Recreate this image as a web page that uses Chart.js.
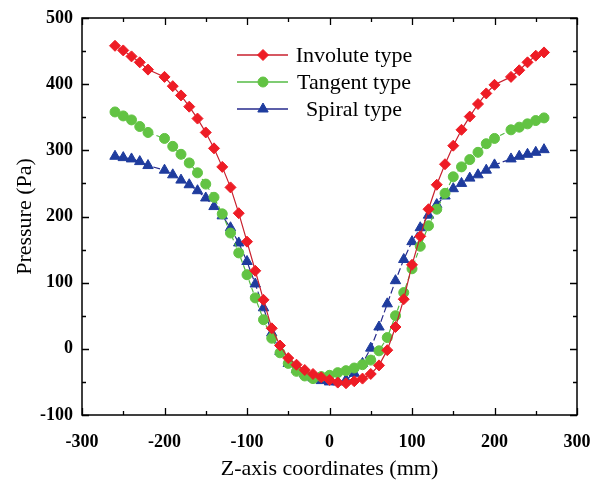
<!DOCTYPE html>
<html>
<head>
<meta charset="utf-8">
<script src="https://cdn.jsdelivr.net/npm/chart.js@4.4.1/dist/chart.umd.min.js"></script>
<style>
  html, body { margin: 0; padding: 0; background: #ffffff; }
  #wrap { width: 592px; height: 480px; }
</style>
</head>
<body>
<div id="wrap"><canvas id="c" width="592" height="480"></canvas></div>
<script>
// ---- data ----
const zCoords = [-260, -250, -240, -230, -220, -200, -190, -180, -170, -160, -150, -140, -130, -120, -110,
  -100, -90, -80, -70, -60, -50, -40, -30, -20, -10, 0, 10, 20, 30, 40, 50, 60, 70, 80, 90, 100,
  110, 120, 130, 140, 150, 160, 170, 180, 190, 200, 220, 230, 240, 250, 260];

const involute = [458, 451, 442, 433, 422, 411, 397, 383, 366, 348, 327, 303, 275, 244, 205,
  162, 118, 74, 31, 5, -14, -24, -32, -38, -43, -47, -51, -52, -49, -45, -38, -25, -2, 33, 75, 127,
  170, 211, 248, 279, 307, 331, 351, 370, 386, 399, 411, 421, 433, 443, 448];

const tangent = [358, 352, 346, 336, 327, 318, 306, 294, 281, 266, 249, 229, 204, 175, 145,
  112, 77, 44, 16, -6, -22, -34, -41, -45, -42, -40, -36, -33, -29, -24, -17, -3, 17, 50, 85, 121,
  155, 186, 211, 235, 260, 275, 286, 297, 310, 318, 331, 335, 340, 345, 349];

const spiral = [291, 289, 287, 283, 277, 270, 263, 255, 248, 239, 228, 215, 201, 183, 160,
  132, 98, 62, 24, -4, -22, -31, -38, -44, -48, -50, -50, -47, -37, -22, 1, 33, 68, 103, 135, 162,
  183, 202, 218, 231, 242, 250, 258, 263, 270, 278, 287, 291, 294, 297, 301];

const seriesNames = ['Involute type', 'Tangent type', 'Spiral type'];
const xTitle = 'Z-axis coordinates (mm)';
const yTitle = 'Pressure (Pa)';
const xRange = [-300, 300];
const yRange = [-100, 500];
const tickStep = 100;

// ---- helpers ----
const toPoints = (ys) => ys.map((y, i) => ({ x: zCoords[i], y: y }));
const SERIF = "'Liberation Serif', 'Times New Roman', serif";

// inward ticks + frame on all four sides
const framePlugin = {
  id: 'frame',
  afterDatasetsDraw(chart) {
    const { ctx, chartArea: a, scales } = chart;
    const xs = scales.x, ys = scales.y;
    ctx.save();
    ctx.strokeStyle = '#000';
    ctx.lineWidth = 1.5;
    ctx.strokeRect(a.left, a.top, a.right - a.left, a.bottom - a.top);
    ctx.lineWidth = 1.3;
    const major = 7, minor = 4;
    const xt = xs.ticks.map(t => t.value);
    const yt = ys.ticks.map(t => t.value);
    const drawX = (v, len) => {
      const p = Math.round(xs.getPixelForValue(v)) + 0.5;
      ctx.beginPath();
      ctx.moveTo(p, a.bottom); ctx.lineTo(p, a.bottom - len);
      ctx.moveTo(p, a.top); ctx.lineTo(p, a.top + len);
      ctx.stroke();
    };
    const drawY = (v, len) => {
      const p = Math.round(ys.getPixelForValue(v)) + 0.5;
      ctx.beginPath();
      ctx.moveTo(a.left, p); ctx.lineTo(a.left + len, p);
      ctx.moveTo(a.right, p); ctx.lineTo(a.right - len, p);
      ctx.stroke();
    };
    xt.forEach((v, i) => {
      drawX(v, major);
      if (i < xt.length - 1) drawX((v + xt[i + 1]) / 2, minor);
    });
    yt.forEach((v, i) => {
      drawY(v, major);
      if (i < yt.length - 1) drawY((v + yt[i + 1]) / 2, minor);
    });
    ctx.restore();
  }
};

// legend inside the plot, labels centred in their column
const legendPlugin = {
  id: 'innerLegend',
  afterDatasetsDraw(chart) {
    const { ctx } = chart;
    const rows = [55, 82, 109];
    const lineX0 = 237, lineX1 = 288, markX = 263, textCX = 354;
    ctx.save();
    chart.data.datasets.forEach((d, i) => {
      const y = rows[i];
      ctx.strokeStyle = d.borderColor;
      ctx.lineWidth = 1.5;
      ctx.setLineDash([]);
      ctx.beginPath();
      ctx.moveTo(lineX0, y); ctx.lineTo(lineX1, y);
      ctx.stroke();
      ctx.fillStyle = d.pointBackgroundColor;
      ctx.strokeStyle = d.pointBorderColor;
      ctx.lineWidth = 1;
      Chart.helpers.drawPoint(ctx, { pointStyle: d.pointStyle, radius: d.pointRadius, rotation: 0, borderWidth: 1 }, markX, y);
      ctx.fillStyle = '#000';
      ctx.font = '22px ' + SERIF;
      ctx.textAlign = 'center';
      ctx.textBaseline = 'middle';
      ctx.fillText(d.label, textCX, y + 1);
    });
    ctx.restore();
  }
};

const ds = (label, data, line, fill, style, radius, dash) => ({
  label: label,
  data: toPoints(data),
  borderColor: line,
  borderWidth: 1.2,
  borderDash: dash,
  pointStyle: style,
  pointRadius: radius,
  pointHoverRadius: radius,
  pointBackgroundColor: fill,
  pointBorderColor: fill,
  pointBorderWidth: 1,
  fill: false,
  tension: 0
});

const chart = new Chart(document.getElementById('c'), {
  type: 'line',
  data: {
    datasets: [
      ds(seriesNames[0], involute, '#c8202e', '#ee1c25', 'rectRot', 5.5, []),
      ds(seriesNames[1], tangent, '#55bb44', '#62c343', 'circle', 5, [5, 3]),
      ds(seriesNames[2], spiral, '#262a8c', '#1f3c9e', 'triangle', 6, [7, 3])
    ]
  },
  options: {
    responsive: false,
    animation: false,
    devicePixelRatio: 1,
    layout: { padding: { left: 0, right: 15, top: 18, bottom: 0 } },
    plugins: {
      legend: { display: false },
      tooltip: { enabled: false }
    },
    scales: {
      x: {
        type: 'linear',
        min: xRange[0], max: xRange[1],
        grid: { display: false, drawTicks: false },
        border: { display: false },
        ticks: {
          stepSize: tickStep,
          padding: 17,
          color: '#000',
          font: { family: SERIF, size: 18, weight: 'bold' },
          maxRotation: 0
        },
        title: {
          display: true,
          text: xTitle,
          color: '#000',
          font: { family: SERIF, size: 22, lineHeight: 1 },
          padding: { top: 0, bottom: 0 }
        },
        afterFit(scale) { scale.height = 65; scale.paddingLeft = 0; scale.paddingRight = 0; }
      },
      y: {
        type: 'linear',
        min: yRange[0], max: yRange[1],
        grid: { display: false, drawTicks: false },
        border: { display: false },
        ticks: {
          stepSize: tickStep,
          padding: 9,
          color: '#000',
          font: { family: SERIF, size: 18, weight: 'bold' }
        },
        title: {
          display: true,
          text: yTitle,
          color: '#000',
          font: { family: SERIF, size: 22, lineHeight: 1 },
          padding: { top: 14, bottom: 0 }
        },
        afterFit(scale) { scale.width = 82; scale.paddingTop = 0; scale.paddingBottom = 0; }
      }
    }
  },
  plugins: [framePlugin, legendPlugin]
});
</script>
</body>
</html>
